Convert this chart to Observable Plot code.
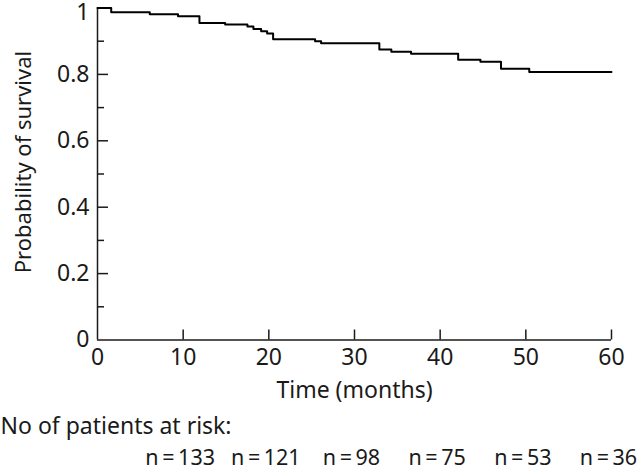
<!DOCTYPE html>
<html>
<head>
<meta charset="utf-8">
<script src="https://cdn.jsdelivr.net/npm/d3@7"></script>
<script src="https://cdn.jsdelivr.net/npm/@observablehq/plot@0.6"></script>
<style>
  html, body { margin: 0; padding: 0; background: #fff; }
  #chart svg { display: block; }
</style>
</head>
<body>
<div id="chart"></div>
<script>
// Kaplan–Meier survival estimate (step function)
const times    = [0, 1.6, 6.1, 9.4, 11.9, 14.9, 17.5, 18.2, 19.1, 19.8, 20.5, 25.4, 26.1, 32.9, 34.3, 36.6, 42.1, 44.7, 47.1, 50.4, 60];
const survival = [1, 0.987, 0.981, 0.975, 0.955, 0.950, 0.944, 0.937, 0.930, 0.923, 0.906, 0.900, 0.894, 0.875, 0.868, 0.862, 0.844, 0.838, 0.817, 0.807, 0.807];

const xTicks = [0, 10, 20, 30, 40, 50, 60];
const yTicks = [0, 0.2, 0.4, 0.6, 0.8];
const yTopTick = [1];
const yMinorTicks = [0.1, 0.3, 0.5, 0.7, 0.9];

const riskTimes  = [10, 20, 30, 40, 50, 60];
const riskLabels = ["n\u2009=\u2009133", "n\u2009=\u2009121", "n\u2009=\u200998", "n\u2009=\u200975", "n\u2009=\u200953", "n\u2009=\u200936"];

const xLabel = "Time (months)";
const yLabel = "Probability of survival";
const riskTitle = "No of patients at risk:";

const curve = times.map((t, i) => ({t, s: survival[i]}));
const ink = "#1a1a1a";
const fs = 23;

const chart = Plot.plot({
  width: 640,
  height: 472,
  marginLeft: 97,
  marginRight: 29,
  marginTop: 7.5,
  marginBottom: 132.5,
  style: {fontFamily: "'Noto Sans', sans-serif", fontSize: fs + "px", color: ink, background: "#fff"},
  x: {domain: [0, 60]},
  y: {domain: [0, 1]},
  marks: [
    // axis lines
    Plot.ruleY([0], {stroke: ink, strokeWidth: 1.5}),
    Plot.ruleX([0], {stroke: ink, strokeWidth: 1.5}),
    // inward tick marks
    Plot.axisX(xTicks.slice(1), {tickSize: -10, tickFormat: () => "", label: null, stroke: ink, strokeWidth: 1.5}),
    Plot.axisY(yTicks.slice(1).concat(yTopTick), {tickSize: -11, tickFormat: () => "", label: null, stroke: ink, strokeWidth: 1.5}),
    Plot.axisY(yMinorTicks, {tickSize: -7, tickFormat: () => "", label: null, stroke: ink, strokeWidth: 1.5}),
    // tick labels
    Plot.axisX(xTicks, {tickSize: 0, tickPadding: 9, tickFormat: d => String(d), label: null, fontSize: fs, fill: ink}),
    Plot.axisY(yTicks, {tickSize: 0, tickPadding: 8, tickFormat: d => String(d), label: null, fontSize: fs, fill: ink}),
    Plot.axisY(yTopTick, {tickSize: 0, tickPadding: 8, tickFormat: d => String(d), label: null, fontSize: fs, fill: ink, dy: 5}),
    // survival curve
    Plot.line(curve, {x: "t", y: "s", curve: "step-after", stroke: "#000", strokeWidth: 2}),
    // axis titles
    Plot.text([xLabel], {frameAnchor: "bottom", lineAnchor: "top", dy: 42, fontSize: fs, fill: ink}),
    Plot.text([yLabel], {frameAnchor: "left", rotate: -90, lineAnchor: "top", textAnchor: "middle", dx: -82, dy: -12, fontSize: 22, fill: ink}),
    // numbers at risk
    Plot.text([riskTitle], {frameAnchor: "bottom-left", textAnchor: "start", lineAnchor: "top", dx: -97, dy: 78, fontSize: fs, fill: ink}),
    Plot.text(riskTimes, {x: d => d, text: (d, i) => riskLabels[i], frameAnchor: "bottom", lineAnchor: "top", dy: 110, dx: -3, fontSize: 21.5, fill: ink})
  ]
});
document.getElementById("chart").appendChild(chart);
</script>
</body>
</html>
